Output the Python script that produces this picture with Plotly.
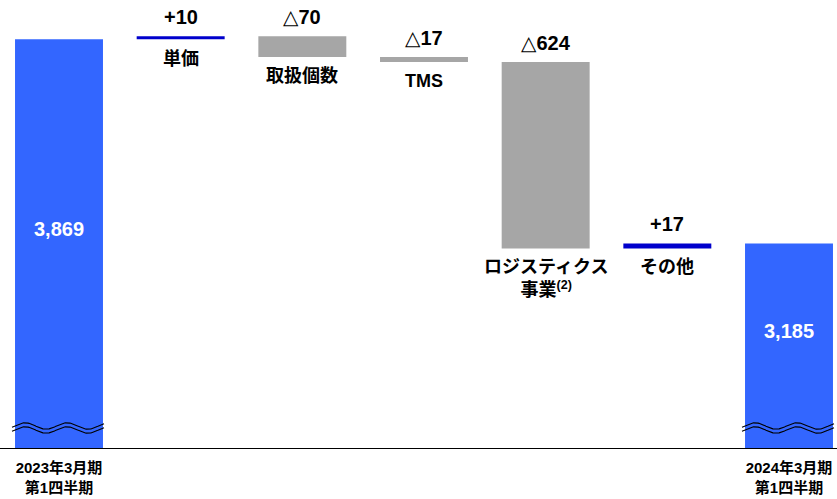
import numpy as np
import plotly.graph_objects as go

# ---- data ----
positions = [0, 1, 2, 3, 4, 5, 6]
measures = ["absolute", "relative", "relative", "relative", "relative", "relative", "total"]
values = [3869, 10, -70, -17, -624, 17, 3185]
value_labels = ["3,869", "+10", "△70", "△17", "△624", "+17", "3,185"]
step_labels = ["", "単価", "取扱個数", "TMS", "ロジスティクス<br>事業<sup>(2)</sup>", "その他", ""]
tick_positions = [0, 6]
tick_labels = ["2023年3月期<br>第1四半期", "2024年3月期<br>第1四半期"]

# ---- style ----
FONT = "Liberation Sans, DejaVu Sans, Noto Sans CJK JP, sans-serif"
C_TOTAL = "#3366FF"
C_UP = "#0000CC"
C_DOWN = "#A6A6A6"
Y0, Y1 = 2500, 4000
PLOT_H = 448
PX_PER_X = 121.67
BAR_W = 0.723
UNITS_PER_PX = (Y1 - Y0) / PLOT_H
BREAK_Y = Y0 + 20 * UNITS_PER_PX

fig = go.Figure()
fig.add_trace(go.Waterfall(
    x=positions, y=values, measure=measures, width=BAR_W,
    increasing=dict(marker=dict(color=C_UP)),
    decreasing=dict(marker=dict(color=C_DOWN)),
    totals=dict(marker=dict(color=C_TOTAL)),
    connector=dict(visible=False),
    hoverinfo="skip", textinfo="none",
))

annotations = []
level = 0.0
for i, (m, v) in enumerate(zip(measures, values)):
    if m == "absolute":
        top, level = v, v
        total = True
    elif m == "total":
        top = level
        total = True
    else:
        prev = level
        level = prev + v
        top, bot = max(prev, level), min(prev, level)
        total = False
    if total:
        annotations.append(dict(
            x=positions[i], y=(top + BREAK_Y) / 2, text=value_labels[i],
            showarrow=False, yshift=5,
            font=dict(family=FONT, size=20, color="white", weight="bold")))
    else:
        annotations.append(dict(
            x=positions[i], y=top, text=value_labels[i], showarrow=False,
            yanchor="bottom", yshift=6,
            font=dict(family=FONT, size=20, color="black", weight="bold")))
        if step_labels[i]:
            annotations.append(dict(
                x=positions[i], y=bot, text=step_labels[i], showarrow=False,
                yanchor="top", yshift=-7,
                font=dict(family=FONT, size=18, color="black", weight="bold")))

# axis-break wave marks on the total bars
for i, m in enumerate(measures):
    if m in ("absolute", "total"):
        t = np.linspace(-47, 45, 120)
        wave = 3.2 * np.cos(2 * np.pi * (t + 34) / 42)
        for off in (2.0, -2.0):
            fig.add_trace(go.Scatter(
                x=positions[i] + t / PX_PER_X,
                y=BREAK_Y + (wave + off) * UNITS_PER_PX,
                mode="lines", line=dict(color="black", width=1.1),
                hoverinfo="skip", showlegend=False, cliponaxis=False))

fig.update_layout(
    width=837, height=499,
    margin=dict(l=0, r=0, t=0, b=51),
    paper_bgcolor="white", plot_bgcolor="white",
    showlegend=False,
    annotations=annotations,
    xaxis=dict(range=[-59 / PX_PER_X, 6 + 48 / PX_PER_X],
               tickmode="array", tickvals=tick_positions, ticktext=tick_labels,
               tickfont=dict(family=FONT, size=15, color="black", weight="bold"),
               ticklabelstandoff=6,
               showline=True, linecolor="black", linewidth=1.2,
               ticks="", showgrid=False, zeroline=False, fixedrange=True),
    yaxis=dict(range=[Y0, Y1], visible=False, fixedrange=True),
)

fig.write_html("out.html")
